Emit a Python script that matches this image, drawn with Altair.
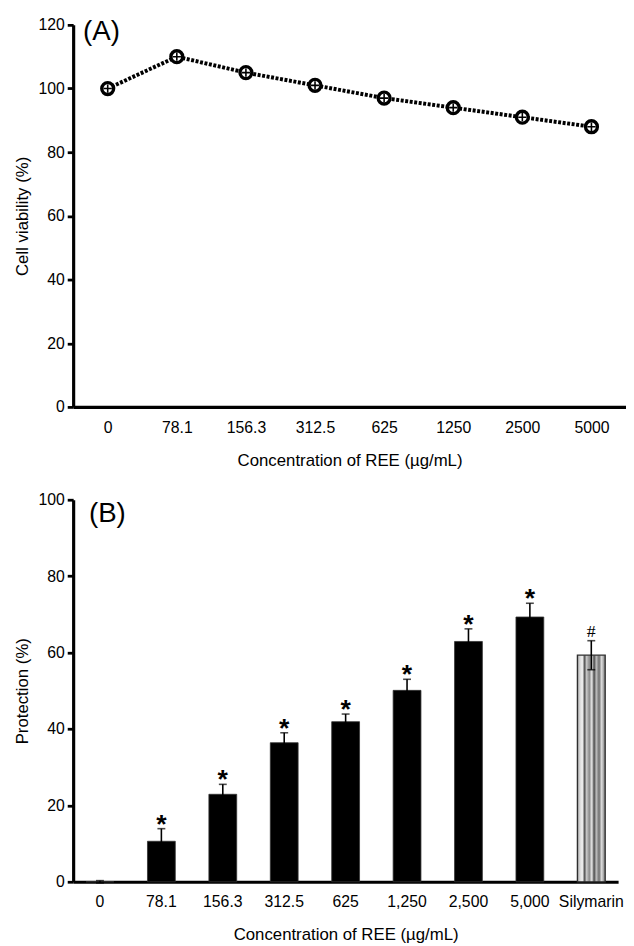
import altair as alt
import pandas as pd

# ---- Panel A data ----
conc_a = ["0", "78.1", "156.3", "312.5", "625", "1250", "2500", "5000"]
viability = [100, 110, 105, 101, 97, 94, 91, 88]

# ---- Panel B data ----
conc_b = ["0", "78.1", "156.3", "312.5", "625", "1,250", "2,500", "5,000", "Silymarin"]
protection = [0, 10.6, 22.9, 36.4, 41.9, 50.1, 62.9, 69.3, 59.3]
err_b = [0.3, 3.3, 2.6, 2.6, 2.0, 2.9, 3.3, 3.6, 3.8]
sig_b = ["", "*", "*", "*", "*", "*", "*", "*", "#"]
group_b = ["REE"] * 8 + ["Silymarin"]

df_a = pd.DataFrame({"conc": conc_a, "viability": viability})
df_b = pd.DataFrame({"conc": conc_b, "prot": protection, "err": err_b,
                     "sig": sig_b, "group": group_b})
df_b["lo"] = df_b["prot"] - df_b["err"]
df_b["hi"] = df_b["prot"] + df_b["err"]

FONT = "Liberation Sans"
XTITLE = "Concentration of REE (\u00b5g/mL)"

# ---------------- Panel A ----------------
xa = alt.X("conc:N", sort=conc_a, title=XTITLE,
           scale=alt.Scale(type="point", padding=0.5),
           axis=alt.Axis(labelAngle=0, ticks=False, labelPadding=13,
                         titlePadding=17))
ya = alt.Y("viability:Q", title="Cell viability (%)",
           scale=alt.Scale(domain=[0, 120], nice=False),
           axis=alt.Axis(values=[0, 20, 40, 60, 80, 100, 120]))

base_a = alt.Chart(df_a).encode(x=xa, y=ya)
line_a = base_a.mark_line(color="black", strokeWidth=4, strokeDash=[3, 1.6])
pts_a = base_a.mark_point(shape="circle", size=145, filled=True, fill="white",
                          stroke="black", strokeWidth=3.4, opacity=1)
cross_a = base_a.mark_point(shape="M-1,0L1,0M0,-1L0,1", size=70, filled=False,
                            stroke="black", strokeWidth=1.6, opacity=1)
lab_a = alt.Chart(pd.DataFrame({"t": ["(A)"]})).mark_text(
    font=FONT, fontSize=28, align="left", baseline="middle", color="black"
).encode(text="t:N", x=alt.value(10), y=alt.value(7))

panel_a = alt.layer(line_a, pts_a, cross_a, lab_a).properties(width=560, height=387)

# ---------------- Panel B ----------------
xb = alt.X("conc:N", sort=conc_b, title=XTITLE,
           scale=alt.Scale(paddingInner=0.547, paddingOuter=0.21),
           axis=alt.Axis(labelAngle=0, ticks=False, labelPadding=12,
                         titlePadding=17))
yb_axis = alt.Axis(values=[0, 20, 40, 60, 80, 100])
yb_scale = alt.Scale(domain=[0, 100], nice=False)
YT = "Protection (%)"

base_b = alt.Chart(df_b)
bars_ree = base_b.transform_filter(alt.datum.group == "REE").mark_bar(
    color="black", stroke="#333333", strokeWidth=0.8
).encode(x=xb, y=alt.Y("prot:Q", title=YT, scale=yb_scale, axis=yb_axis))

stripes = alt.Gradient(
    gradient="linear", x1=0, x2=1, y1=0, y2=0,
    stops=[
        alt.GradientStop(offset=0.0, color="#8c8c8c"),
        alt.GradientStop(offset=0.08, color="#d4d4d4"),
        alt.GradientStop(offset=0.18, color="#f2f2f2"),
        alt.GradientStop(offset=0.26, color="#555555"),
        alt.GradientStop(offset=0.33, color="#c8c8c8"),
        alt.GradientStop(offset=0.43, color="#8a8a8a"),
        alt.GradientStop(offset=0.52, color="#e8e8e8"),
        alt.GradientStop(offset=0.6, color="#4a4a4a"),
        alt.GradientStop(offset=0.68, color="#bdbdbd"),
        alt.GradientStop(offset=0.78, color="#6e6e6e"),
        alt.GradientStop(offset=0.87, color="#dcdcdc"),
        alt.GradientStop(offset=1.0, color="#777777"),
    ],
)
bars_sil = base_b.transform_filter(alt.datum.group == "Silymarin").mark_bar(
    color=stripes, stroke="#2e2e2e", strokeWidth=1.3
).encode(x=xb, y=alt.Y("prot:Q", title=YT, scale=yb_scale, axis=yb_axis))

err_rule = base_b.mark_rule(color="black", strokeWidth=1.6).encode(
    x=xb, y=alt.Y("lo:Q", scale=yb_scale, title=YT), y2="hi:Q")
cap_hi = base_b.mark_tick(color="black", size=8, thickness=1.6).encode(
    x=xb, y=alt.Y("hi:Q", scale=yb_scale, title=YT))
cap_lo = base_b.mark_tick(color="black", size=8, thickness=1.6).encode(
    x=xb, y=alt.Y("lo:Q", scale=yb_scale, title=YT))

star = base_b.transform_filter(alt.datum.sig == "*").mark_text(
    font=FONT, fontSize=27, fontWeight="bold", baseline="alphabetic", dy=4,
    color="black"
).encode(x=xb, y=alt.Y("hi:Q", scale=yb_scale, title=YT), text="sig:N")
hash_ = base_b.transform_filter(alt.datum.sig == "#").mark_text(
    font="Liberation Serif", fontSize=18, baseline="alphabetic", dy=-4, color="black"
).encode(x=xb, y=alt.Y("hi:Q", scale=yb_scale, title=YT), text="sig:N")

lab_b = alt.Chart(pd.DataFrame({"t": ["(B)"]})).mark_text(
    font=FONT, fontSize=28, align="left", baseline="middle", color="black"
).encode(text="t:N", x=alt.value(16), y=alt.value(15))

panel_b = alt.layer(bars_ree, bars_sil, err_rule, cap_lo, cap_hi, star, hash_, lab_b
                    ).properties(width=552, height=387)

chart = alt.vconcat(panel_a, panel_b, spacing=24).properties(
    padding={"left": 5, "top": 3, "right": 0, "bottom": 0}
).configure_view(stroke=None).configure_axis(
    grid=False,
    domainColor="black", domainWidth=3.2,
    tickColor="black", tickWidth=2.8, tickSize=6,
    labelColor="black", labelFont=FONT, labelFontSize=16, labelPadding=3,
    titleColor="black", titleFont=FONT, titleFontSize=17, titleFontWeight="normal",
).configure_axisY(titlePadding=7).configure_concat(spacing=24)

chart.save("out.html", embed_options={"renderer": "svg", "actions": False})
